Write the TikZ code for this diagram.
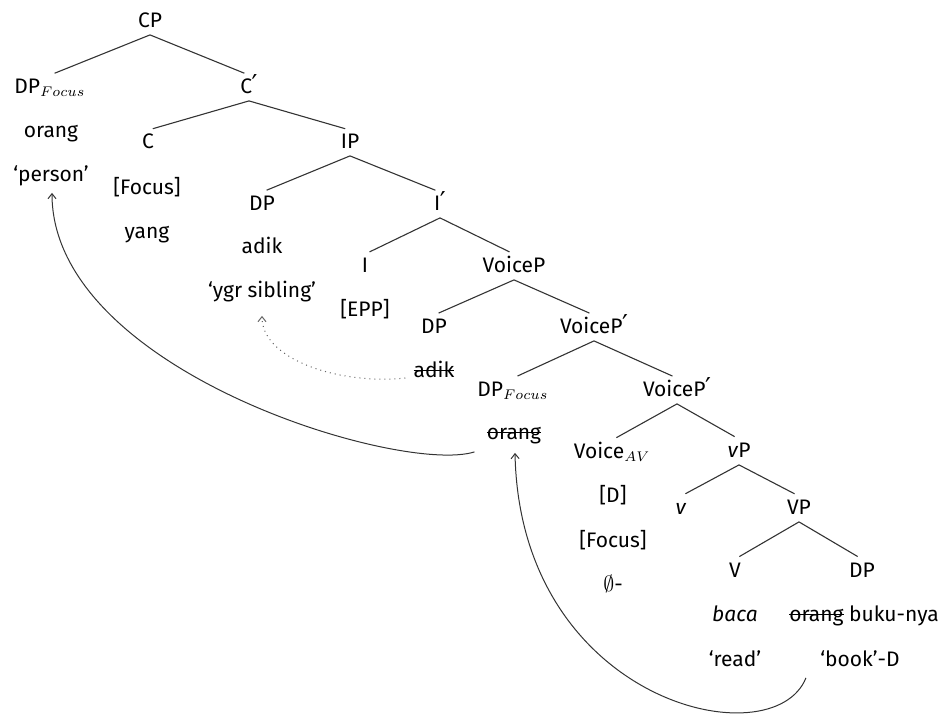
\documentclass[tikz,border=0pt]{standalone}
\usepackage{fontspec}
\setmainfont{Fira Sans}
\newfontfamily\primefont{DejaVu Sans}
\usetikzlibrary{arrows.meta}
\newsavebox\strkbox
\newcommand\strk[1]{\sbox\strkbox{#1}\rlap{\usebox\strkbox}\rule[0.27em]{\wd\strkbox}{0.45pt}}
\newcommand\pbar{{\primefont\fontsize{13pt}{12pt}\selectfont\kern-0.02em ′}}
\begin{document}
\begin{tikzpicture}[x=0.5pt,y=-0.5pt,
  lbl/.style={font=\fontsize{10.5pt}{12pt}\selectfont, text height=7.25pt, text depth=2.25pt, inner xsep=1.5pt, inner ysep=1.5pt, anchor=center},
  br/.style={draw=black!80, line width=0.55pt, shorten >=2.5pt},
  mv/.style={draw=black!80, line width=0.5pt, -{Straight Barb[length=2.5pt,width=4pt]}},
  mvdot/.style={draw=black!60, line width=0.5pt, dotted, -{Straight Barb[length=2.5pt,width=4pt]}}]
\useasboundingbox (0,0) rectangle (942,713);
% level nodes
\node[lbl] (cp) at (150,22) {CP};
\node[lbl] (dpf1) at (50,88) {DP$_{Focus}$};
\node[lbl] (orang1) at (51,132) {orang};
\node[lbl] (person) at (51,176) {‘person’};
\node[lbl] (cbar) at (249,88) {C\pbar};
\node[lbl] (c) at (148,143) {C};
\node[lbl] (focus1) at (147,189) {[Focus]};
\node[lbl] (yang) at (147,233) {yang};
\node[lbl] (ip) at (350,143) {IP};
\node[lbl] (dp2) at (262,205) {DP};
\node[lbl] (adik1) at (262,248) {adik};
\node[lbl] (ygr) at (262,292) {‘ygr sibling’};
\node[lbl] (ibar) at (440,205) {I\pbar};
\node[lbl] (i) at (365,267) {I};
\node[lbl] (epp) at (365,311) {[EPP]};
\node[lbl] (voicep) at (514,267) {VoiceP};
\node[lbl] (dp3) at (434,328) {DP};
\node[lbl] (adik2) at (434,372) {\strk{adik}};
\node[lbl] (vpbar1) at (594,328) {VoiceP\pbar};
\node[lbl] (dpf2) at (513,391) {DP$_{Focus}$};
\node[lbl] (orang2) at (514,434) {\strk{orang}};
\node[lbl] (vpbar2) at (677,391) {VoiceP\pbar};
\node[lbl] (voiceav) at (612,453) {Voice$_{AV}$};
\node[lbl] (dfeat) at (613,497) {[D]};
\node[lbl] (focus2) at (613,542) {[Focus]};
\node[lbl] (empty) at (613,586) {$\emptyset$-};
\node[lbl] (littlevp) at (739,452) {\textit{v}P};
\node[lbl] (littlev) at (681,509) {\textit{v}};
\node[lbl] (vp) at (799,509) {VP};
\node[lbl] (v) at (735,572) {V};
\node[lbl] (dp4) at (862,572) {DP};
\node[lbl] (baca) at (735,616) {\textit{baca}};
\node[lbl] (buku) at (864,616) {\strk{orang} buku-nya};
\node[lbl] (read) at (735,661) {‘read’};
\node[lbl] (bookd) at (860,661) {‘book’-D};
% branches
\draw[br] (cp.south) -- (dpf1.north);
\draw[br] (cp.south) -- (cbar.north);
\draw[br] (cbar.south) -- (c.north);
\draw[br] (cbar.south) -- (ip.north);
\draw[br] (ip.south) -- (dp2.north);
\draw[br] (ip.south) -- (ibar.north);
\draw[br] (ibar.south) -- (i.north);
\draw[br] (ibar.south) -- (voicep.north);
\draw[br] (voicep.south) -- (dp3.north);
\draw[br] (voicep.south) -- (vpbar1.north);
\draw[br] (vpbar1.south) -- (dpf2.north);
\draw[br] (vpbar1.south) -- (vpbar2.north);
\draw[br] (vpbar2.south) -- (voiceav.north);
\draw[br] (vpbar2.south) -- (littlevp.north);
\draw[br] (littlevp.south) -- (littlev.north);
\draw[br] (littlevp.south) -- (vp.north);
\draw[br] (vp.south) -- (v.north);
\draw[br] (vp.south) -- (dp4.north);
% movement arrows
\draw[mv] ([shift={(-9,5)}]orang2.south west) .. controls +(-73,23) and +(0,178) .. ([shift={(1,4)}]person.south);
\draw[mvdot] ([shift={(-5,6)}]adik2.west) .. controls +(-65,7) and +(0,44) .. ([shift={(0,11)}]ygr.south);
\draw[mv] ([shift={(-11,4)}]bookd.south west) .. controls +(-33,82) and +(5,250) .. ([shift={(1,6)}]orang2.south);
\end{tikzpicture}
\end{document}
